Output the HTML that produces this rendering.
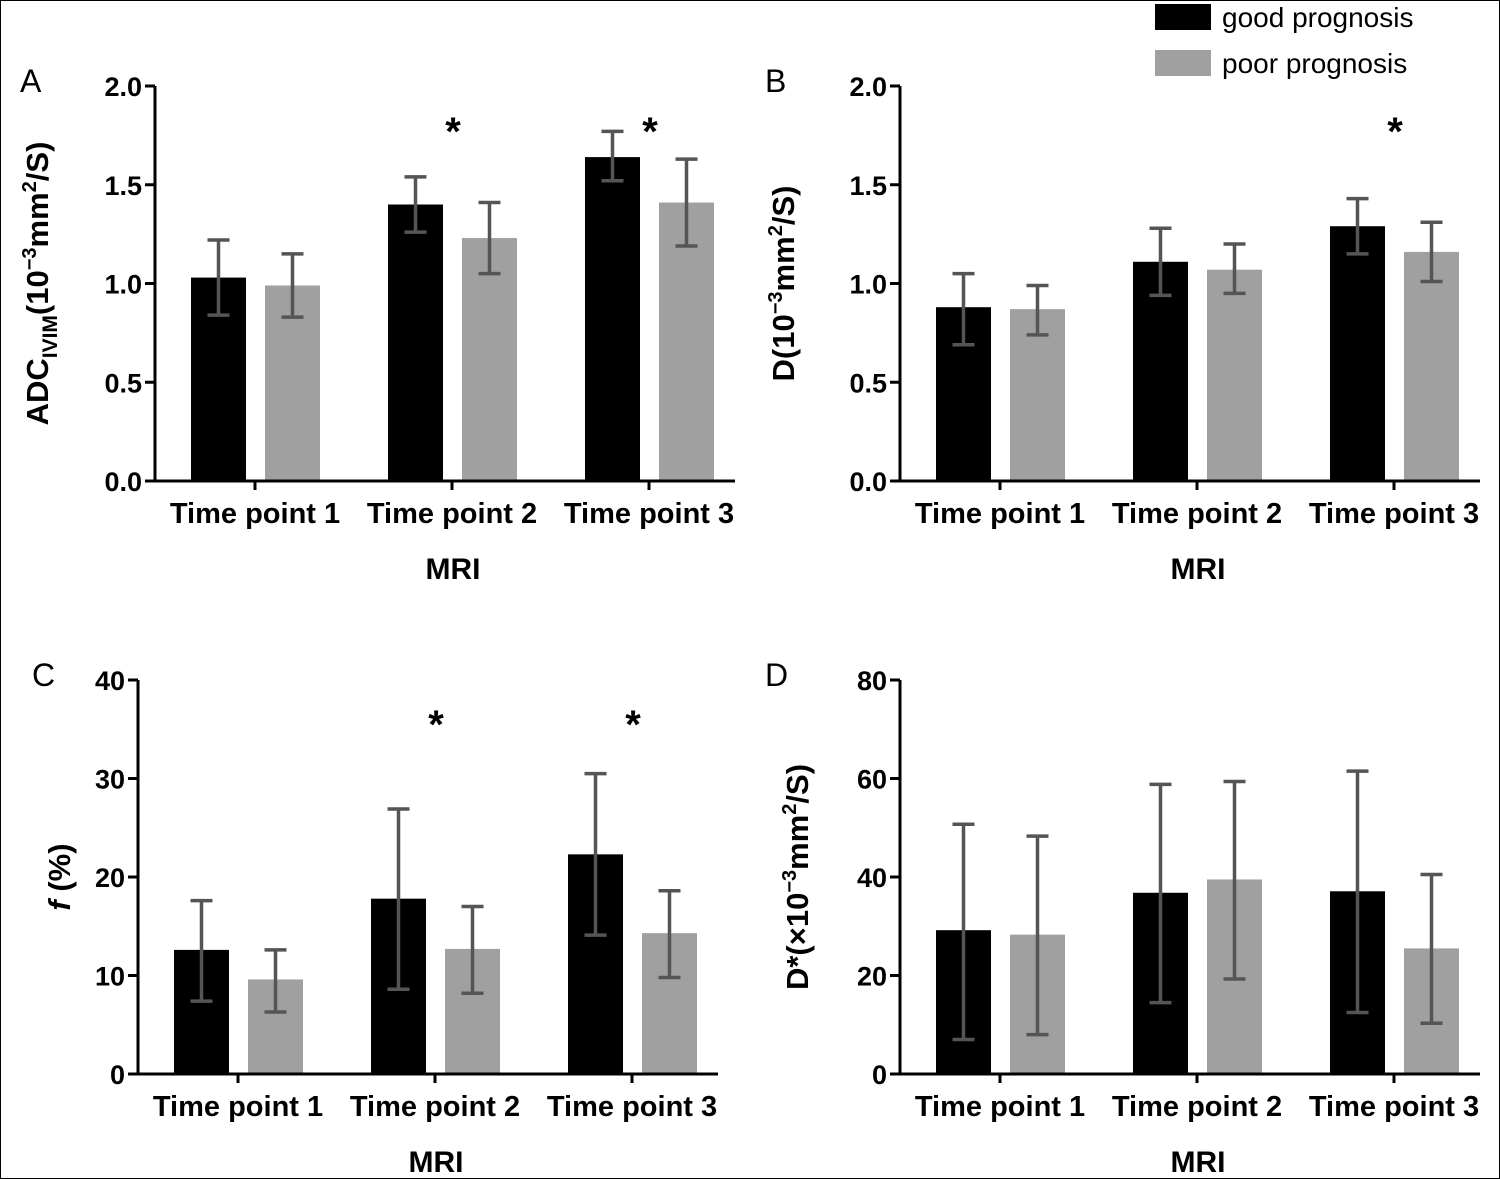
<!DOCTYPE html>
<html><head><meta charset="utf-8"><style>
html,body{margin:0;padding:0;background:#fff;}
svg{display:block;font-family:"Liberation Sans",Arial,sans-serif;}
</style></head><body>
<svg id="chart" width="1500" height="1179" viewBox="0 0 1500 1179">
<rect x="0.5" y="0.5" width="1499" height="1178" fill="#fff" stroke="#000" stroke-width="1"/>
<g>
<rect x="1155" y="4" width="56" height="26" fill="#000"/>
<text x="1222" y="27" font-size="28" fill="#000">good prognosis</text>
<rect x="1155" y="50" width="56" height="26" fill="#a0a0a0"/>
<text x="1222" y="73" font-size="28" fill="#000">poor prognosis</text>
</g>
</svg>
<script>
const categories=["Time point 1","Time point 2","Time point 3"];
const aGood=[1.03,1.40,1.64], aGoodLo=[0.84,1.26,1.52], aGoodHi=[1.22,1.54,1.77];
const aPoor=[0.99,1.23,1.41], aPoorLo=[0.83,1.05,1.19], aPoorHi=[1.15,1.41,1.63];
const bGood=[0.88,1.11,1.29], bGoodLo=[0.69,0.94,1.15], bGoodHi=[1.05,1.28,1.43];
const bPoor=[0.87,1.07,1.16], bPoorLo=[0.74,0.95,1.01], bPoorHi=[0.99,1.20,1.31];
const cGood=[12.6,17.8,22.3], cGoodLo=[7.4,8.6,14.1], cGoodHi=[17.6,26.9,30.5];
const cPoor=[9.6,12.7,14.3], cPoorLo=[6.3,8.2,9.8], cPoorHi=[12.6,17.0,18.6];
const dGood=[29.2,36.8,37.1], dGoodLo=[7,14.5,12.5], dGoodHi=[50.7,58.8,61.5];
const dPoor=[28.3,39.5,25.5], dPoorLo=[8,19.3,10.3], dPoorHi=[48.3,59.4,40.5];
const ticks01=["0.0","0.5","1.0","1.5","2.0"];
const ticksC=["0","10","20","30","40"];
const ticksD=["0","20","40","60","80"];
const starsA=[1,2], starsB=[2], starsC=[1,2], starsD=[];

const NS="http://www.w3.org/2000/svg";
const svg=document.getElementById('chart');
function el(tag,attrs,parent){const e=document.createElementNS(NS,tag);for(const k in attrs)e.setAttribute(k,attrs[k]);(parent||svg).appendChild(e);return e;}

function panel(p){
  const g=el('g',{});
  
  
  const y=v=>p.y0-(v-p.min)/(p.max-p.min)*(p.y0-p.y1);
  const groupW=197;
  const gx=i=>p.x0+36+i*groupW;
  const barW=55;
  for(let i=0;i<categories.length;i++){
    [[p.good,p.gLo,p.gHi,'#000',0,'good'],[p.poor,p.pLo,p.pHi,'#a0a0a0',74,'poor']].forEach(s=>{
      const x=gx(i)+s[4];
      const r=el('rect',{x:x,y:y(s[0][i]),width:barW,height:y(p.min)-y(s[0][i]),fill:s[3]},g);
      
      
      const cx=x+barW/2;
      const eb=el('path',{d:`M${cx},${y(s[1][i])}V${y(s[2][i])}M${cx-11},${y(s[1][i])}H${cx+11}M${cx-11},${y(s[2][i])}H${cx+11}`,stroke:'#555',"stroke-width":3.5,fill:'none'},g);
      
      
    });
    const t=el('text',{x:gx(i)+64,y:p.y0+42,"font-size":29,"font-weight":"bold","text-anchor":"middle"},g);
    t.textContent=categories[i];
    
    
  }
  p.stars.forEach(i=>{
    const s=el('text',{x:gx(i)+65,y:p.starY,"font-size":40,"font-weight":"bold","text-anchor":"middle"},g);
    s.textContent='*';
    
    
  });
  const ax=el('path',{d:`M${p.x0},${p.y1}V${p.y0}H${p.x0+580}`,stroke:'#000',"stroke-width":3,fill:'none'},g);
  
  
  for(let i=0;i<categories.length;i++){
    const tk=el('line',{x1:gx(i)+64,x2:gx(i)+64,y1:p.y0,y2:p.y0+9,stroke:'#000',"stroke-width":3},g);
    
    
  }
  p.ticks.forEach((lab,k)=>{
    const v=p.min+k*(p.max-p.min)/(p.ticks.length-1);
    const tl=el('line',{x1:p.x0-10,x2:p.x0,y1:y(v),y2:y(v),stroke:'#000',"stroke-width":3},g);
    
    
    const tt=el('text',{x:p.x0-13,y:y(v)+10,"font-size":27,"font-weight":"bold","text-anchor":"end"},g);
    tt.textContent=lab;
    
    
  });
  const xt=el('text',{x:p.x0+298,y:p.y0+98,"font-size":30,"font-weight":"bold","text-anchor":"middle"},g);
  xt.textContent='MRI';
  
  
  const letter=el('text',{x:p.letterX,y:p.y1+6,"font-size":32},g);
  letter.textContent=p.id;
  
  
  const yt=el('text',{transform:`translate(${p.titleX},${(p.y0+p.y1)/2}) rotate(-90)`,"font-size":31,"font-weight":"bold","text-anchor":"middle"},g);
  yt.innerHTML=p.title;
  
  
}
panel({id:'A',x0:155,y0:481,y1:86,min:0,max:2,good:aGood,gLo:aGoodLo,gHi:aGoodHi,poor:aPoor,pLo:aPoorLo,pHi:aPoorHi,ticks:ticks01,stars:starsA,starY:145,letterX:20,titleX:48,
 title:'ADC<tspan font-size="21" dy="9">IVIM</tspan><tspan dy="-9">(10</tspan><tspan font-size="20" dy="-12">−3</tspan><tspan dy="12">mm</tspan><tspan font-size="20" dy="-12">2</tspan><tspan dy="12">/S)</tspan>'});
panel({id:'B',x0:900,y0:481,y1:86,min:0,max:2,good:bGood,gLo:bGoodLo,gHi:bGoodHi,poor:bPoor,pLo:bPoorLo,pHi:bPoorHi,ticks:ticks01,stars:starsB,starY:145,letterX:765,titleX:794,
 title:'D(10<tspan font-size="20" dy="-12">−3</tspan><tspan dy="12">mm</tspan><tspan font-size="20" dy="-12">2</tspan><tspan dy="12">/S)</tspan>'});
panel({id:'C',x0:138,y0:1074,y1:680,min:0,max:40,good:cGood,gLo:cGoodLo,gHi:cGoodHi,poor:cPoor,pLo:cPoorLo,pHi:cPoorHi,ticks:ticksC,stars:starsC,starY:738,letterX:32,titleX:70,
 title:'<tspan font-style="italic">f</tspan> (%)'});
panel({id:'D',x0:900,y0:1074,y1:680,min:0,max:80,good:dGood,gLo:dGoodLo,gHi:dGoodHi,poor:dPoor,pLo:dPoorLo,pHi:dPoorHi,ticks:ticksD,stars:starsD,starY:738,letterX:765,titleX:808,
 title:'D*(×10<tspan font-size="20" dy="-12">−3</tspan><tspan dy="12">mm</tspan><tspan font-size="20" dy="-12">2</tspan><tspan dy="12">/S)</tspan>'});
</script>
</body></html>
